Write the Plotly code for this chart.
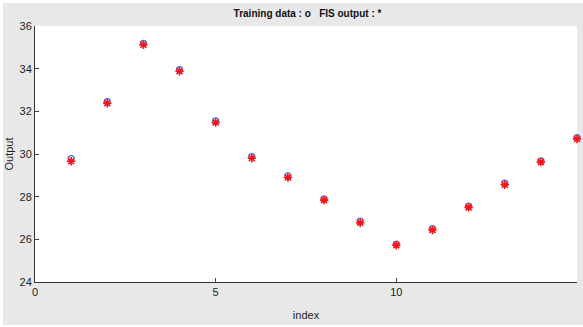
import plotly.graph_objects as go

index = list(range(1, 16))
training = [29.78, 32.45, 35.18, 33.95, 31.55, 29.88, 28.97, 27.90, 26.85, 25.77, 26.50, 27.56, 28.63, 29.68, 30.77]
fis_output = [29.66, 32.38, 35.12, 33.88, 31.48, 29.80, 28.90, 27.84, 26.78, 25.72, 26.44, 27.50, 28.56, 29.62, 30.70]
x_ticks = [0, 5, 10, 15]
y_ticks = [24, 26, 28, 30, 32, 34, 36]

fig = go.Figure()
fig.add_trace(go.Scatter(x=index, y=training, mode="markers", cliponaxis=False,
                         marker=dict(symbol="circle-open", size=6, color="#3a7fe0", line=dict(width=1.3)),
                         name="Training data"))
fig.add_trace(go.Scatter(x=index, y=fis_output, mode="markers", cliponaxis=False,
                         marker=dict(symbol="asterisk-open", size=7, color="#ff1010", line=dict(width=1.6, color="#ff1010")),
                         name="FIS output"))

fig.update_layout(
    width=580, height=322,
    margin=dict(l=32, r=5.5, t=23, b=42.7, autoexpand=False),
    paper_bgcolor="#e8e8e8",
    plot_bgcolor="white",
    showlegend=False,
    font=dict(family="Liberation Sans, Arial, sans-serif", size=11, color="#222"),
    title=dict(text="<b>Training data : o   FIS output : *</b>", x=0.525, xanchor="center",
               y=0.968, yanchor="middle", font=dict(size=10, color="#111")),
)
fig.update_xaxes(range=[0, 15], tickvals=x_ticks, ticks="inside", ticklen=4, tickcolor="#444",
                 showline=True, linecolor="#333", linewidth=1, showgrid=False, zeroline=False,
                 title=dict(text="index", standoff=14, font=dict(size=11)), automargin=False,
                 tickfont=dict(size=11))
fig.update_yaxes(range=[24, 36], tickvals=y_ticks, ticks="inside", ticklen=4, tickcolor="#444",
                 showline=True, linecolor="#333", linewidth=1, showgrid=False, zeroline=False,
                 title=dict(text="Output", standoff=4, font=dict(size=11)), automargin=False,
                 tickfont=dict(size=11))

fig.write_html("out.html", config={"displayModeBar": False},
               post_script="document.body.style.margin='0';document.body.style.padding='3px 0 0 3px';document.body.style.background='white';")
